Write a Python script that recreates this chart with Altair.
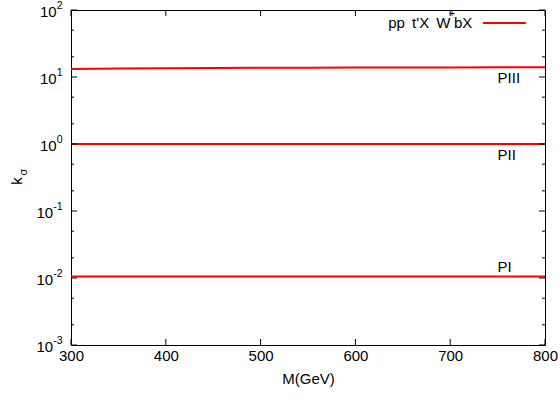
import altair as alt
import pandas as pd

FONT = "Liberation Sans"
RED = "#ff0000"

# Mass points (GeV) and k_sigma for the three parameter points
mass = [300, 350, 400, 450, 500, 550, 600, 650, 700, 750, 800]
k_p3 = [13.2, 13.4, 13.55, 13.65, 13.75, 13.8, 13.85, 13.9, 13.9, 13.95, 13.95]
k_p2 = [1.0, 1.0, 1.0, 1.0, 1.0, 1.0, 1.0, 1.0, 1.0, 1.0, 1.0]
k_p1 = [0.0105, 0.0105, 0.0105, 0.0105, 0.0105, 0.0105, 0.0105, 0.0105, 0.0105, 0.0105, 0.0105]
series_names = ["PIII", "PII", "PI"]

# Axis ticks
x_ticks = [300, 400, 500, 600, 700, 800]
y_major = [1e-3, 1e-2, 1e-1, 1e0, 1e1, 1e2]
y_exponents = ["-3", "-2", "-1", "0", "1", "2"]
y_minor = [2e-3, 5e-3, 2e-2, 5e-2, 2e-1, 5e-1, 2e0, 5e0, 2e1, 5e1]

legend_label = "pp \u2009t'X \u2009W"
legend_sup = "+"
legend_tail = "bX"
label_x = 750

W, H = 474, 335

lines_df = pd.DataFrame({
    "M": mass * 3,
    "k": k_p3 + k_p2 + k_p1,
    "series": [series_names[0]] * len(mass) + [series_names[1]] * len(mass) + [series_names[2]] * len(mass),
})

xscale = alt.Scale(domain=[300, 800], nice=False, zero=False)
yscale = alt.Scale(type="log", domain=[1e-3, 1e2], nice=False)

x_enc = alt.X("M:Q", scale=xscale,
              axis=alt.Axis(values=x_ticks, ticks=False, domain=False, grid=False,
                            labelFlush=False, labelOverlap=False,
                            labelFont=FONT, labelFontSize=15, labelColor="black",
                            labelPadding=3, title="M(GeV)", titleFont=FONT,
                            titleFontSize=15, titleFontWeight="normal",
                            titleColor="black", titlePadding=8))

lines = alt.Chart(lines_df).mark_line(color=RED, strokeWidth=2).encode(
    x=x_enc,
    y=alt.Y("k:Q", scale=yscale, axis=None),
    detail="series:N",
)

# Series labels next to the right end of each curve
label_layers = []
label_dy = {"PIII": 10.5, "PII": 11, "PI": -10}
for name, vals in zip(series_names, [k_p3, k_p2, k_p1]):
    df = pd.DataFrame({"M": [label_x], "k": [vals[mass.index(label_x)]], "t": [name]})
    label_layers.append(
        alt.Chart(df).mark_text(font=FONT, fontSize=15, align="left", baseline="middle",
                                dy=label_dy[name], color="black").encode(
            x=alt.X("M:Q", scale=xscale), y=alt.Y("k:Q", scale=yscale), text="t:N")
    )

# Inward tick marks on all four sides
xt_df = pd.DataFrame({"M": x_ticks})
ymaj_df = pd.DataFrame({"k": y_major})
ymin_df = pd.DataFrame({"k": y_minor})


def vticks(y_center, length):
    return alt.Chart(xt_df).mark_tick(
        color="black", orient="vertical", size=length, thickness=1, opacity=1
    ).encode(x=alt.X("M:Q", scale=xscale), y=alt.value(y_center))


def hticks(df, x_center, length):
    return alt.Chart(df).mark_tick(
        color="black", orient="horizontal", size=length, thickness=1, opacity=1
    ).encode(y=alt.Y("k:Q", scale=yscale), x=alt.value(x_center))


tick_layers = [
    vticks(H - 3, 6), vticks(3, 6),
    hticks(ymaj_df, 3, 6), hticks(ymaj_df, W - 3, 6),
    hticks(ymin_df, 1.5, 3), hticks(ymin_df, W - 1.5, 3),
]

# Y tick labels: "10" with a raised exponent
ylab_df = pd.DataFrame({"k": y_major, "exp": y_exponents, "base": ["10"] * len(y_major)})
neg = ylab_df[ylab_df["exp"].str.startswith("-")]
pos = ylab_df[~ylab_df["exp"].str.startswith("-")]
ylabel_layers = []
for part, xr in [(pos, -14.3), (neg, -17.8)]:
    ylabel_layers.append(
        alt.Chart(part).mark_text(font=FONT, fontSize=15, align="right", baseline="middle",
                                  dy=2, color="black").encode(
            y=alt.Y("k:Q", scale=yscale), x=alt.value(xr), text="base:N"))
    ylabel_layers.append(
        alt.Chart(part).mark_text(font=FONT, fontSize=10.5, align="left", baseline="middle",
                                  dy=-4, color="black").encode(
            y=alt.Y("k:Q", scale=yscale), x=alt.value(xr), text="exp:N"))

# Y axis title: k with subscript sigma
ytitle_k = alt.Chart(pd.DataFrame({"t": ["k"]})).mark_text(
    font=FONT, fontSize=15, angle=270, align="center", baseline="middle", color="black"
).encode(x=alt.value(-54), y=alt.value(171), text="t:N")
ytitle_s = alt.Chart(pd.DataFrame({"t": ["σ"]})).mark_text(
    font=FONT, fontSize=11, angle=270, align="center", baseline="middle", color="black"
).encode(x=alt.value(-47.5), y=alt.value(162), text="t:N")

# Legend entry
leg_main = alt.Chart(pd.DataFrame({"t": [legend_label]})).mark_text(
    font=FONT, fontSize=15, align="right", baseline="middle", color="black"
).encode(x=alt.value(379.5), y=alt.value(13), text="t:N")
leg_sup = alt.Chart(pd.DataFrame({"t": [legend_sup]})).mark_text(
    font=FONT, fontSize=10.5, align="center", baseline="middle", color="black"
).encode(x=alt.value(381), y=alt.value(4), text="t:N")
leg_tail = alt.Chart(pd.DataFrame({"t": [legend_tail]})).mark_text(
    font=FONT, fontSize=15, align="left", baseline="middle", color="black"
).encode(x=alt.value(383), y=alt.value(13), text="t:N")
leg_line = alt.Chart(pd.DataFrame({"t": [legend_label]})).mark_rule(
    color=RED, strokeWidth=2
).encode(x=alt.value(412), x2=alt.value(455), y=alt.value(13))

chart = alt.layer(
    lines, *label_layers, *tick_layers,
    *ylabel_layers, ytitle_k, ytitle_s,
    leg_main, leg_sup, leg_tail, leg_line,
).properties(
    width=W, height=H,
    autosize=alt.AutoSizeParams(type="none"),
    padding={"left": 71, "top": 10, "right": 15, "bottom": 55},
    background="white",
).configure_view(stroke="black", strokeWidth=1)

chart.save("out.html", embed_options={"renderer": "svg", "actions": False})
